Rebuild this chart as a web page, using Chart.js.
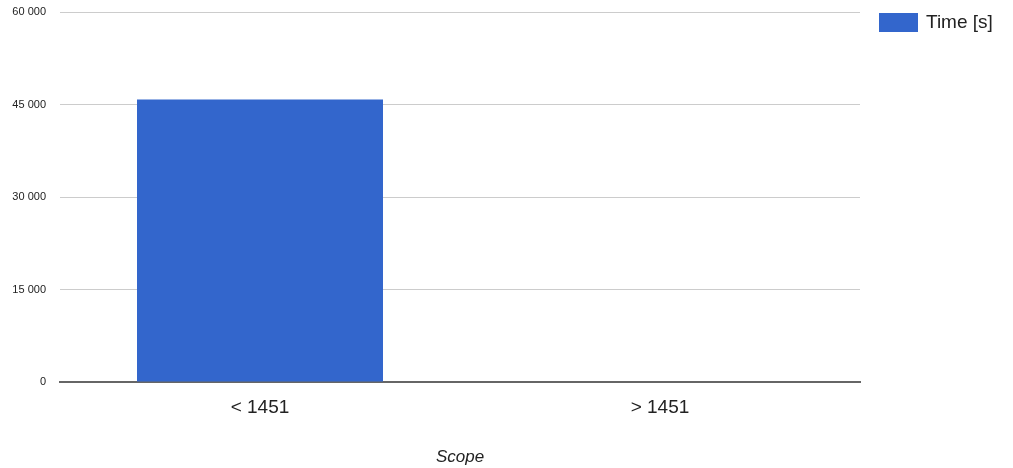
<!DOCTYPE html>
<html>
<head>
<meta charset="utf-8">
<script src="https://cdn.jsdelivr.net/npm/chart.js@4"></script>
<style>
  html, body { margin: 0; padding: 0; background: #fff; }
  #wrap { position: relative; width: 1013px; height: 468px; }
  canvas { position: absolute; left: 0; top: 0; }
  #legend { position: absolute; left: 879px; top: 11px; font-family: Arial, 'Liberation Sans', sans-serif; font-size: 19px; color: #222; display: flex; align-items: center; }
  #legend .box { width: 39px; height: 19px; background: #3366cc; margin-right: 8px; }
</style>
</head>
<body>
<div id="wrap">
  <canvas id="c" width="1013" height="468"></canvas>
  <div id="legend"><span class="box"></span><span id="legendText"></span></div>
</div>
<script>
const categories = ['< 1451', '> 1451'];
const seriesName = 'Time [s]';
const timeValues = [45800, 0];
const yTicks = [0, 15000, 30000, 45000, 60000];
const xTitle = 'Scope';

document.getElementById('legendText').textContent = seriesName;

const FONT = "Arial, 'Liberation Sans', sans-serif";
function fmt(v) { return String(v).replace(/\B(?=(\d{3})+(?!\d))/g, ' '); }

new Chart(document.getElementById('c'), {
  type: 'bar',
  data: {
    labels: categories,
    datasets: [{
      label: seriesName,
      data: timeValues,
      backgroundColor: '#3366cc',
      borderWidth: 0,
      categoryPercentage: 1,
      barPercentage: 0.615
    }]
  },
  options: {
    responsive: false,
    animation: false,
    layout: { padding: { left: 0, right: 153, top: 12, bottom: 0 } },
    plugins: { legend: { display: false }, tooltip: { enabled: false } },
    scales: {
      x: {
        grid: { display: false, drawTicks: false },
        border: { display: true, color: '#666666', width: 2 },
        ticks: { color: '#222', font: { family: FONT, size: 19 }, padding: 14 },
        title: { display: true, text: xTitle, color: '#222', font: { family: FONT, size: 17, style: 'italic' }, padding: { top: 21, bottom: 1 } },
        afterFit: s => { s.height = 86; s.paddingLeft = 0; s.paddingRight = 0; }
      },
      y: {
        min: 0, max: 60000,
        afterBuildTicks: s => { s.ticks = yTicks.map(v => ({ value: v })); },
        grid: { color: ctx => ctx.tick && ctx.tick.value === 0 ? '#666666' : '#cccccc', lineWidth: 1, drawTicks: false },
        border: { display: false },
        ticks: { color: '#222', font: { family: FONT, size: 11 }, padding: 14, callback: v => fmt(v) },
        afterFit: s => { s.width = 60; s.paddingTop = 0; s.paddingBottom = 0; }
      }
    }
  }
});
</script>
</body>
</html>
